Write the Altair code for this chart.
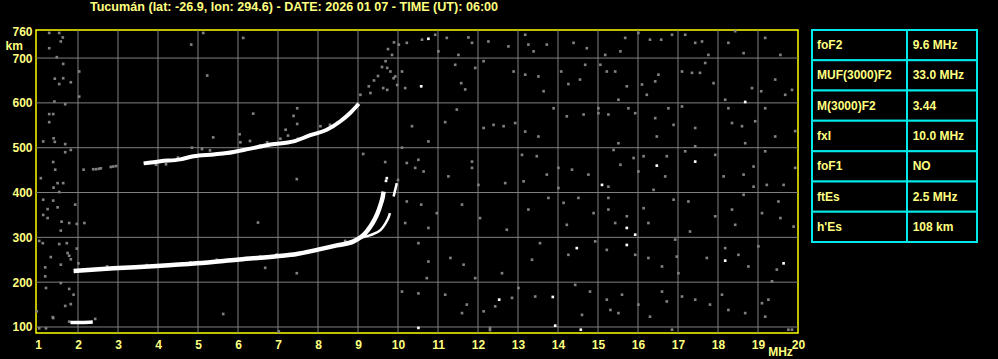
import altair as alt
import pandas as pd

TITLE = "Tucumán (lat: -26.9, lon: 294.6) - DATE: 2026 01 07 - TIME (UT): 06:00"

X_TICKS = list(range(1, 21))
Y_TICKS = [100, 200, 300, 400, 500, 600, 700, 760]
GRID_F = list(range(2, 20))
GRID_H = [100, 200, 300, 400, 500, 600, 700]

# sporadic E trace
ES_F = [1.81, 2.1, 2.37]
ES_H = [110, 110, 111]
# F-layer ordinary trace
LO_F = [1.89, 2.89, 3.97, 4.97, 5.97, 6.97, 7.47, 7.97, 8.47, 8.89, 9.18, 9.31, 9.41, 9.49, 9.56, 9.62, 9.64]
LO_H = [225, 231, 236, 242, 250, 258, 263, 272, 282, 291, 309, 324, 339, 354, 372, 391, 402]
# extraordinary branch
XB_F = [9.0, 9.31, 9.56, 9.68, 9.77, 9.8]
XB_H = [298, 305, 316, 330, 346, 354]
XS_F = [9.89, 9.93, 9.97]
XS_H = [391, 406, 421]
# second hop trace
UP_F = [3.64, 4.06, 4.56, 4.89, 5.39, 5.72, 6.31, 6.81, 7.39, 7.81, 8.22, 8.56, 8.81, 9.02]
UP_H = [465, 470, 474, 481, 485, 488, 498, 507, 514, 528, 540, 559, 578, 598]

NOISE_RIGHT_A = [
    (10.6, 741), (11.22, 745), (10.93, 752), (10.22, 734), (11.01, 715), (11.51, 707), (11.76, 746), (11.85, 734),
    (12.26, 737), (12.76, 726), (13.18, 752), (13.26, 730), (13.39, 715), (13.72, 730), (14.39, 734), (14.72, 722),
    (10.1, 670), (10.18, 633), (11.43, 685), (11.58, 644), (11.68, 630), (11.93, 678), (12.14, 693), (12.89, 670),
    (13.18, 663), (13.51, 659), (13.64, 626), (14.08, 670), (14.26, 642), (14.55, 652), (14.68, 685), (11.47, 585),
    (11.18, 557), (12.14, 544), (12.39, 551), (12.64, 548), (12.93, 555), (13.18, 536), (13.51, 525), (13.89, 588),
    (14.22, 570), (14.64, 574), (15.01, 577), (10.35, 548), (10.76, 514), (10.1, 500), (10.22, 466), (10.51, 473),
    (10.43, 455), (10.64, 447), (11.26, 436), (11.85, 469), (11.85, 455), (12.01, 417), (12.68, 421), (13.1, 484),
    (13.14, 425), (13.47, 481), (13.72, 440), (14.01, 455), (14.35, 451), (14.76, 440), (14.01, 410), (10.22, 380),
    (10.58, 373), (10.97, 354), (10.18, 332), (10.76, 321), (11.6, 373), (12.05, 343), (12.72, 317), (13.26, 362),
    (13.76, 388), (14.14, 377), (14.22, 328), (14.51, 388), (14.89, 354), (10.51, 287), (10.76, 246), (10.72, 209),
    (11.31, 254), (11.64, 239), (11.93, 209), (12.6, 220), (13.35, 250), (13.55, 287), (14.26, 261), (14.93, 291),
    (10.1, 179), (10.51, 175), (11.18, 172), (11.6, 131), (11.72, 150), (12.14, 135), (12.43, 146), (12.85, 165),
    (13.01, 187), (13.43, 168), (14.43, 194), (14.6, 127), (14.8, 179), (12.3, 98), (12.3, 93), (10.0, 428),
]
NOISE_RIGHT_B = [
    (15.68, 745), (16.01, 756), (16.3, 741), (16.58, 741), (16.85, 752), (17.18, 752), (17.43, 734), (17.6, 737),
    (17.76, 707), (18.26, 734), (18.43, 760), (18.64, 711), (19.18, 745), (19.56, 707), (15.56, 715), (15.18, 707),
    (15.06, 685), (15.22, 670), (15.43, 670), (15.72, 637), (15.51, 607), (16.1, 641), (16.22, 618), (16.43, 648),
    (16.51, 663), (17.1, 670), (17.35, 667), (17.55, 667), (17.68, 689), (17.89, 644), (18.18, 607), (18.85, 633),
    (19.08, 626), (19.43, 652), (19.68, 618), (19.85, 629), (15.01, 588), (15.26, 574), (15.76, 588), (15.93, 577),
    (16.43, 566), (16.76, 588), (16.89, 551), (16.47, 525), (17.1, 592), (17.43, 544), (18.26, 588), (18.35, 555),
    (18.6, 548), (18.68, 510), (18.93, 559), (19.18, 588), (19.43, 525), (19.93, 537), (15.51, 510), (15.39, 495),
    (15.26, 413), (15.56, 462), (15.89, 477), (16.01, 447), (16.14, 481), (16.68, 436), (16.39, 406), (16.72, 481),
    (17.18, 492), (17.43, 503), (17.93, 484), (18.14, 436), (18.64, 440), (18.89, 458), (18.89, 413), (19.18, 492),
    (19.22, 417), (19.64, 417), (19.93, 455), (15.26, 388), (15.26, 362), (15.72, 347), (15.43, 332), (16.14, 365),
    (16.26, 332), (16.89, 384), (17.26, 380), (17.3, 313), (17.93, 347), (18.35, 362), (18.43, 328), (18.64, 395),
    (19.1, 354), (19.51, 380), (19.56, 343), (19.89, 324), (15.22, 272), (15.93, 261), (16.26, 254), (16.6, 235),
    (16.97, 257), (16.93, 295), (17.01, 220), (17.72, 254), (18.18, 276), (18.51, 261), (18.76, 235), (19.01, 280),
    (19.47, 228), (19.35, 202), (15.6, 172), (15.22, 161), (15.31, 138), (15.51, 131), (16.01, 150), (16.3, 123),
    (16.6, 179), (16.72, 157), (17.1, 168), (17.43, 161), (17.8, 150), (18.1, 172), (18.26, 138), (18.68, 131),
    (19.1, 153), (19.26, 161), (19.18, 123), (19.76, 94), (19.85, 94), (16.85, 94),
]
NOISE_LEFT = [
    (1.28, 756), (1.53, 756), (1.62, 746), (1.57, 737), (1.28, 722), (1.47, 702), (1.63, 687), (2.03, 670),
    (1.42, 654), (1.63, 655), (1.53, 642), (1.82, 646), (2.03, 614), (1.41, 603), (1.68, 597), (1.28, 575),
    (1.38, 575), (1.28, 557), (1.13, 514), (1.39, 521), (1.42, 513), (1.68, 508), (1.82, 495), (1.68, 490),
    (1.38, 468), (1.43, 451), (1.07, 432), (1.49, 421), (1.63, 421), (1.39, 411), (1.53, 401), (1.13, 384),
    (1.38, 382), (1.93, 373), (1.24, 363), (1.49, 367), (1.13, 350), (1.24, 343), (1.59, 335), (1.78, 332),
    (1.97, 330), (2.16, 332), (1.57, 315), (1.03, 292), (1.12, 287), (1.53, 285), (1.72, 287), (1.97, 275),
    (1.74, 265), (1.32, 256), (1.78, 259), (1.82, 251), (1.57, 239), (2.01, 242), (1.18, 233), (1.18, 213),
    (1.57, 198), (1.2, 187), (1.78, 185), (1.89, 172), (1.68, 147), (1.82, 151), (1.38, 120), (1.03, 97),
    (1.2, 97), (0.97, 135), (2.14, 451), (1.37, 122), (2.43, 118), (5.63, 129), (7.02, 90),
]
NOISE_MID = [
    (5.13, 756), (6.13, 745), (4.83, 730), (5.23, 661), (6.38, 576), (7.48, 588), (7.39, 571), (7.48, 553),
    (7.19, 540), (6.04, 530), (5.38, 523), (9.13, 486), (9.68, 468), (7.47, 430), (6.5, 333), (6.68, 232),
    (7.47, 220), (2.38, 452), (2.45, 452), (2.52, 453), (2.57, 454), (2.82, 457), (2.88, 458), (2.95, 459),
    (9.06, 618), (9.27, 637), (9.31, 622), (9.4, 650), (9.5, 660), (9.6, 680), (9.69, 693), (9.73, 678),
    (9.81, 670), (9.93, 659), (9.85, 707), (9.89, 655), (9.98, 640), (9.73, 629), (9.63, 633), (10.02, 730),
    (9.75, 720), (9.9, 735),
    (4.5, 478), (4.85, 500), (5.1, 497), (5.3, 494), (6.06, 512), (6.3, 515), (6.55, 505), (6.73, 512),
    (7.06, 520), (7.25, 527), (7.5, 520), (8.06, 548), (8.3, 551), (8.48, 555), (3.95, 462), (4.2, 463),
    (2.73, 235), (3.72, 238), (4.81, 244), (5.47, 250), (6.56, 257), (6.97, 262), (7.72, 268), (8.31, 279),
    (8.68, 292), (1.78, 112),
]
WHITE_DOTS = [
    (10.76, 743), (10.58, 637), (14.47, 276), (12.53, 161), (13.87, 167), (13.93, 103), (10.51, 98), (14.57, 94),
    (18.68, 602), (15.1, 417), (16.47, 460), (17.43, 469), (15.72, 321), (15.93, 306), (15.72, 283), (18.18, 248),
    (19.64, 242), (9.72, 432), (9.7, 426),
]

TABLE_LABELS = ["foF2", "MUF(3000)F2", "M(3000)F2", "fxI", "foF1", "ftEs", "h'Es"]
TABLE_VALUES = ["9.6 MHz", "33.0 MHz", "3.44", "10.0 MHz", "NO", "2.5 MHz", "108 km"]

YEL = "#ffff80"
BORDER = "#ffff00"
GRAY = "#808080"
CYAN = "#00e8e8"
FONT = "Liberation Sans"

xs = alt.Scale(domain=[0.95, 20.0], nice=False, zero=False)
ys = alt.Scale(domain=[86.6, 762.6], nice=False, zero=False)

x_axis = alt.Axis(values=X_TICKS, format="d", grid=False, ticks=False, tickSize=0, domain=False,
                  labelPadding=6, labelColor=YEL, labelFont=FONT, labelFontWeight="bold",
                  labelFontSize=12, labelFlush=False, labelOverlap=False,
                  title="MHz", titleX=744, titleY=18, titleAlign="center", titleBaseline="middle",
                  titleColor=YEL, titleFont=FONT, titleFontWeight="bold", titleFontSize=12)
y_axis = alt.Axis(values=Y_TICKS, format="d", grid=False, ticks=False, tickSize=0, domain=False,
                  labelPadding=4, labelColor=YEL, labelFont=FONT, labelFontWeight="bold",
                  labelFontSize=12, labelFlush=False, labelOverlap=False, labelBaseline="middle",
                  title="km", titleAngle=0, titleX=-31, titleY=15.5, titleAlign="left",
                  titleBaseline="middle", titleColor=YEL, titleFont=FONT, titleFontWeight="bold",
                  titleFontSize=12)


def X():
    return alt.X("f:Q", scale=xs, axis=x_axis)


def Y():
    return alt.Y("h:Q", scale=ys, axis=y_axis)


def pts(pairs):
    return pd.DataFrame({"f": [p[0] for p in pairs], "h": [p[1] for p in pairs]})


vgrid = alt.Chart(pd.DataFrame({"f": GRID_F})).mark_rule(color=GRAY, strokeWidth=1).encode(x=X())
hgrid = alt.Chart(pd.DataFrame({"h": GRID_H})).mark_rule(color=GRAY, strokeWidth=1).encode(y=Y())

noise_df = pts(NOISE_RIGHT_A + NOISE_RIGHT_B + NOISE_LEFT + NOISE_MID)
noise = alt.Chart(noise_df).mark_square(size=7, color=GRAY, opacity=1).encode(x=X(), y=Y())
white = alt.Chart(pts(WHITE_DOTS)).mark_square(size=7, color="white", opacity=1).encode(x=X(), y=Y())


def trace(fs, hs, width):
    df = pd.DataFrame({"f": fs, "h": hs, "o": list(range(len(fs)))})
    return alt.Chart(df).mark_line(color="white", strokeWidth=width, strokeCap="butt",
                                   interpolate="monotone").encode(x=X(), y=Y(), order="o:Q")


lines = [
    trace(ES_F, ES_H, 3.5),
    trace(LO_F, LO_H, 4.5),
    trace(XB_F, XB_H, 2.5),
    trace(XS_F, XS_H, 2.5),
    trace(UP_F, UP_H, 4),
]

title = alt.Chart(pd.DataFrame({"t": [TITLE]})).mark_text(
    font=FONT, fontWeight="bold", fontSize=12.6, color=YEL, align="center", baseline="middle"
).encode(x=alt.value(258), y=alt.value(-23), text="t:N")

main = alt.layer(vgrid, hgrid, noise, white, *lines, title)

table_df = pd.DataFrame({"label": TABLE_LABELS, "value": TABLE_VALUES, "row": list(range(len(TABLE_LABELS)))})
tbase = alt.Chart(table_df).transform_calculate(row_end="datum.row + 1", mid="datum.row + 0.5")
ty = alt.Scale(domain=[0, 7], range=[0, 212])
cells_l = tbase.mark_rect(fill="black", stroke=CYAN, strokeWidth=2).encode(
    x=alt.value(776), x2=alt.value(871), y=alt.Y("row:Q", scale=ty, axis=None), y2="row_end:Q")
cells_r = tbase.mark_rect(fill="black", stroke=CYAN, strokeWidth=2).encode(
    x=alt.value(871), x2=alt.value(941), y=alt.Y("row:Q", scale=ty, axis=None), y2="row_end:Q")
txt_l = tbase.mark_text(font=FONT, fontWeight="bold", fontSize=12, color=YEL, align="left",
                        baseline="middle").encode(
    x=alt.value(781), y=alt.Y("mid:Q", scale=ty, axis=None), text="label:N")
txt_r = tbase.mark_text(font=FONT, fontWeight="bold", fontSize=12, color=YEL, align="left",
                        baseline="middle").encode(
    x=alt.value(876.7), y=alt.Y("mid:Q", scale=ty, axis=None), text="value:N")
table = alt.layer(cells_l, cells_r, txt_l, txt_r)

chart = alt.layer(main, table).resolve_scale(y="independent").properties(
    width=762, height=303,
    padding={"left": 36, "top": 30, "right": 200, "bottom": 26},
    autosize=alt.AutoSizeParams(type="none"),
).configure(background="black").configure_view(stroke=BORDER, strokeWidth=1.5)

chart.save("out.html", embed_options={"renderer": "svg", "actions": False})
